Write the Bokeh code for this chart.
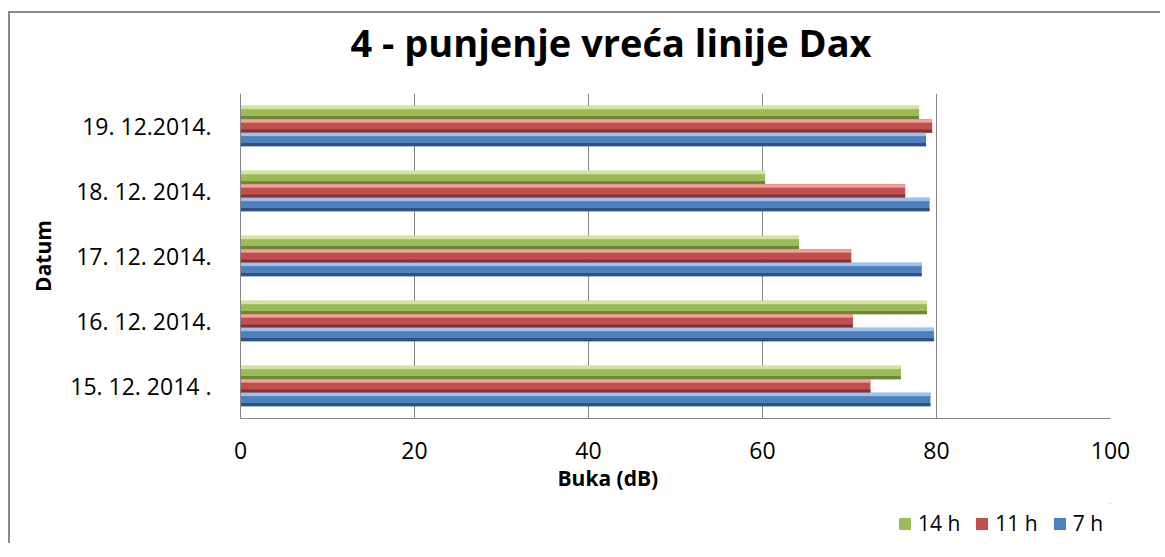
from bokeh.plotting import figure
from bokeh.layouts import column
from bokeh.models import (FactorRange, Range1d, Title, Legend, LegendItem,
                          ColumnDataSource, FixedTicker)
from bokeh.transform import dodge
from bokeh.embed import file_html
from bokeh.resources import INLINE

# ---- data ----
dates = ["15. 12. 2014 .", "16. 12. 2014.", "17. 12. 2014.", "18. 12. 2014.", "19. 12.2014."]
h14 = [75.9, 78.9, 64.2, 60.3, 78.0]
h11 = [72.4, 70.4, 70.2, 76.4, 79.5]
h7 = [79.3, 79.7, 78.3, 79.2, 78.8]
series_names = ["14 h", "11 h", "7 h"]
x_ticks = [0, 20, 40, 60, 80, 100]
title_text = "4 - punjenje vreća linije Dax"

FONT = "Open Sans"
GRID = "#868686"
W = 1150

source = ColumnDataSource(dict(date=dates, s14=h14, s11=h11, s7=h7))


def blank(height, **kw):
    f = figure(width=W, height=height, output_backend="svg", toolbar_location=None,
               x_axis_location=None, y_axis_location=None,
               min_border_left=230, min_border_right=50,
               min_border_top=0, min_border_bottom=0,
               x_range=Range1d(0, 1), y_range=Range1d(0, 1), **kw)
    f.outline_line_color = None
    f.grid.grid_line_color = None
    f.border_fill_color = "white"
    return f


# ---- title strip ----
p0 = blank(80)
p0.title.text = title_text
p0.title.text_font = FONT
p0.title.text_font_style = "bold"
p0.title.text_font_size = "38px"
p0.title.text_color = "black"
p0.title.align = "left"
p0.title.offset = 110
p0.title.vertical_align = "top"
p0.title.standoff = 4

# ---- main chart ----
p = figure(width=W, height=410,
           y_range=FactorRange(*dates), x_range=Range1d(0, 100),
           output_backend="svg", toolbar_location=None,
           min_border_left=230, min_border_right=50,
           min_border_top=0, min_border_bottom=85)
p.title.visible = False
p.outline_line_color = None
p.background_fill_color = "white"
p.border_fill_color = "white"

# bars: (field, offset, base, light, dark)
bh = 0.208
specs = [
    ("s14", bh, "#9bbb59", "#d3e4a2", "#6c8736"),
    ("s11", 0.0, "#c0504d", "#f3a19e", "#8a302e"),
    ("s7", -bh, "#4f81bd", "#9cc3ee", "#2e5281"),
]
for field, off, base, light, dark in specs:
    p.hbar(y=dodge("date", off, range=p.y_range), left=0, right=field,
           height=bh, source=source, fill_color=base, line_color=None)
    t = 0.055
    p.hbar(y=dodge("date", off + bh / 2 - t / 2, range=p.y_range), left=0,
           right=field, height=t, source=source, fill_color=light, line_color=None)
    t2 = 0.03
    p.hbar(y=dodge("date", off + bh / 2 - t - t2 / 2, range=p.y_range), left=0,
           right=field, height=t2, source=source, fill_color=base, fill_alpha=0.6,
           line_color=None)
    b = 0.05
    p.hbar(y=dodge("date", off - bh / 2 + b / 2, range=p.y_range), left=0,
           right=field, height=b, source=source, fill_color=dark, line_color=None)

p.xaxis.ticker = FixedTicker(ticks=x_ticks)
p.xgrid.ticker = FixedTicker(ticks=x_ticks)
p.xgrid.grid_line_color = GRID
p.ygrid.grid_line_color = None
for ax in (p.xaxis[0], p.yaxis[0]):
    ax.axis_line_color = GRID
    ax.major_tick_line_color = None
    ax.minor_tick_line_color = None
    ax.major_label_text_font = FONT
    ax.major_label_text_color = "black"
p.xaxis.major_label_text_font_size = "23px"
p.xaxis.major_label_standoff = 17
p.yaxis.major_label_text_font_size = "23px"
p.yaxis.major_label_standoff = 23
p.yaxis.axis_label = "Datum"
p.yaxis.axis_label_text_font = FONT
p.yaxis.axis_label_text_font_style = "bold"
p.yaxis.axis_label_text_font_size = "21px"
p.yaxis.axis_label_text_color = "black"
p.yaxis.axis_label_standoff = 10

xlab = Title(text="Buka (dB)", align="left", offset=317,
             text_font=FONT, text_font_style="bold", text_font_size="21px",
             text_color="black", standoff=0)
p.add_layout(xlab, "below")

# ---- legend strip ----
p2 = blank(40)
p2.title.visible = False
items = []
for name, (field, off, base, light, dark) in zip(series_names, specs):
    # same series, zero-height and outside this strip's range (only the key shows)
    r = p2.hbar(y=field, left=field, right=field, height=0, source=source,
                fill_color=base, line_color=None)
    items.append(LegendItem(label=name, renderers=[r]))
legend = Legend(items=items, orientation="horizontal", location=(657, 6),
                border_line_color=None, background_fill_alpha=0,
                glyph_width=15, glyph_height=15, label_standoff=6, spacing=14,
                padding=0, margin=0,
                label_text_font=FONT, label_text_font_size="21px",
                label_text_color="black")
p2.add_layout(legend)

layout = column(p0, p, p2, spacing=0)
layout.styles = {"border-left": "2px solid #8a8a8a", "border-top": "2px solid #8a8a8a",
                 "margin-top": "11px", "margin-left": "8px"}

open("out.html", "w").write(file_html(layout, INLINE))
